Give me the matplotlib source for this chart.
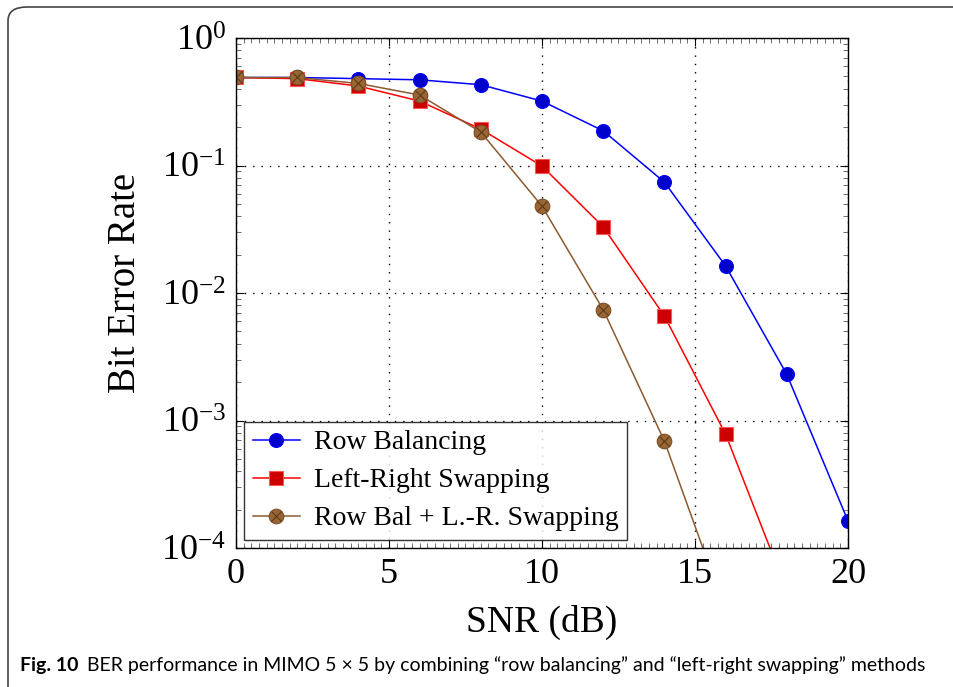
import matplotlib
matplotlib.use("Agg")
import matplotlib.pyplot as plt
import numpy as np
from matplotlib.patches import FancyBboxPatch
from matplotlib.text import Annotation
from matplotlib.ticker import MultipleLocator, LogLocator, NullFormatter

plt.rcParams['font.family'] = ['Liberation Serif', 'DejaVu Serif']
plt.rcParams['mathtext.fontset'] = 'stix'

# SNR points (dB)
snr_rb = [0, 2, 4, 6, 8, 10, 12, 14, 16, 18, 20]
ber_rb = [0.49, 0.49, 0.48, 0.47, 0.43, 0.32, 0.187, 0.074, 0.0163, 0.0023, 1.63e-4]

snr_lr = [0, 2, 4, 6, 8, 10, 12, 14, 16, 18]
ber_lr = [0.49, 0.48, 0.42, 0.32, 0.193, 0.099, 0.033, 0.0066, 7.8e-4, 4.6e-5]

snr_both = [0, 2, 4, 6, 8, 10, 12, 14, 16]
ber_both = [0.49, 0.49, 0.44, 0.357, 0.183, 0.048, 0.0074, 6.9e-4, 3.2e-5]

labels = ["Row Balancing", "Left-Right Swapping", "Row Bal + L.-R. Swapping"]

fig = plt.figure(figsize=(9.54, 6.87), dpi=100)

# rounded frame around the figure
frame = FancyBboxPatch((8 / 954, -0.1), 1.2, (1 - 7 / 687) + 0.1,
                       boxstyle="round,pad=0,rounding_size=0.02",
                       transform=fig.transFigure, fill=False,
                       edgecolor='#444444', linewidth=1.2, clip_on=True)
fig.patches.append(frame)

ax = fig.add_axes([236 / 954, 1 - 548 / 687, (848 - 236) / 954, (548 - 38) / 687])

h1, = ax.plot(snr_rb, ber_rb, color='blue', lw=1.1, marker='o', ms=10,
              mfc='#0000CC', mec='blue', mew=0.8)
h2, = ax.plot(snr_lr, ber_lr, color='red', lw=1.1, marker='s', ms=9.5,
              mfc='#CC0000', mec='#FF5555', mew=0.8)
h3, = ax.plot(snr_both, ber_both, color='#8C5A2E', lw=1.1, marker='o', ms=10.5,
              mfc='#996633', mec='#7A4F26', mew=0.8)
h3x, = ax.plot(snr_both, ber_both, ls='none', marker='x', ms=6.5,
               mec='#5C3A1A', mew=0.8)

ax.set_yscale('log')
ax.set_xlim(0, 20)
ax.set_ylim(1e-4, 1)
ax.xaxis.set_major_locator(MultipleLocator(5))
ax.xaxis.set_minor_locator(MultipleLocator(0.25))
ax.yaxis.set_major_locator(LogLocator(base=10, numticks=10))
ax.yaxis.set_minor_locator(LogLocator(base=10, subs=np.arange(2, 10), numticks=20))
ax.yaxis.set_minor_formatter(NullFormatter())

ax.tick_params(which='both', direction='in', top=True, right=True)
ax.tick_params(which='major', length=6, width=0.8, labelsize=26, pad=7)
ax.tick_params(which='minor', length=3.5, width=0.6, color='#555555')
ax.grid(True, which='major', color='black', ls=(0, (1, 5)), lw=1.0)
for s in ax.spines.values():
    s.set_linewidth(1.0)

ax.set_xlabel("SNR (dB)", fontsize=27, labelpad=10)
ax.set_ylabel("Bit Error Rate", fontsize=28)
ax.yaxis.set_label_coords(-0.15, 0.52)

leg = ax.legend([h1, h2, (h3, h3x)], labels, loc='lower left', fontsize=20,
                frameon=True, fancybox=False, edgecolor='black',
                borderaxespad=0.3, handlelength=1.7, handletextpad=0.5,
                labelspacing=0.45, borderpad=0.3)
leg.get_frame().set_linewidth(1.0)

# caption
t1 = fig.text(20 / 954, 1 - 665 / 687, "Fig. 10", fontsize=14, fontweight='bold',
              family='Lato', va='center', ha='left')
cap = Annotation("BER performance in MIMO 5 \u00d7 5 by combining \u201crow balancing\u201d "
                 "and \u201cleft-right swapping\u201d methods",
                 xy=(1, 0.5), xycoords=t1, xytext=(6, 0), textcoords='offset points',
                 fontsize=14, family='Lato', va='center', ha='left')
fig.add_artist(cap)

fig.savefig("out.png", dpi=100)
